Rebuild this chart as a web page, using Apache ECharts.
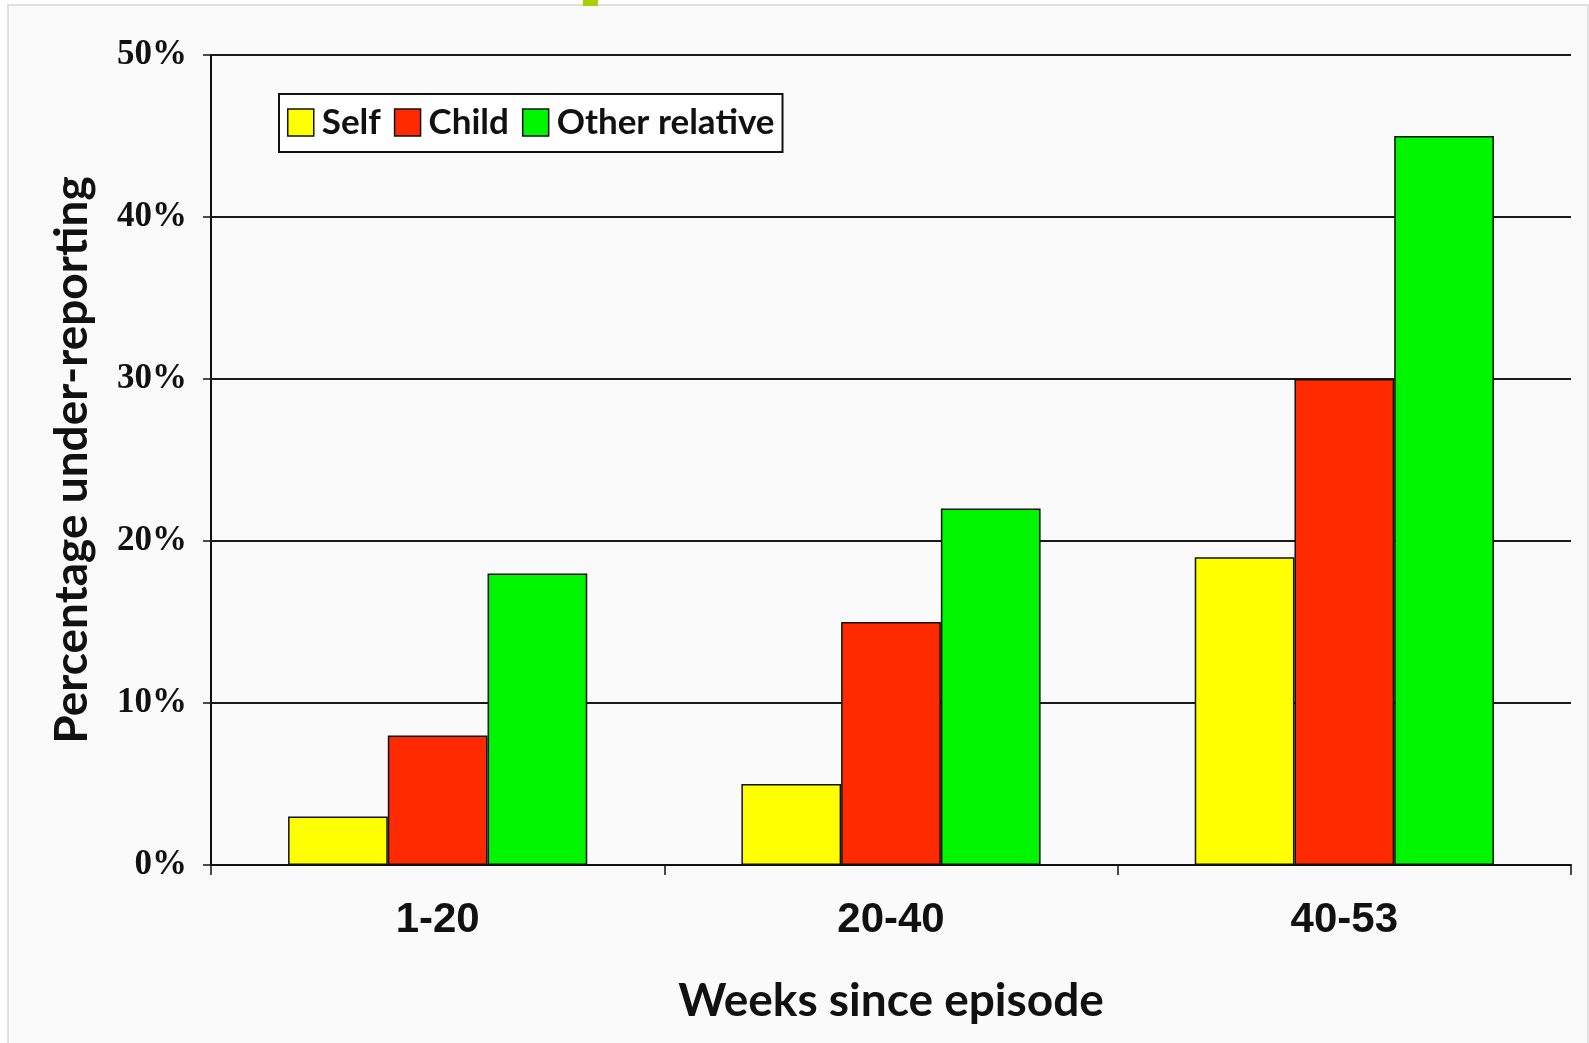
<!DOCTYPE html>
<html>
<head>
<meta charset="utf-8">
<script src="https://cdn.jsdelivr.net/npm/echarts@6/dist/echarts.min.js"></script>
<style>
html,body{margin:0;padding:0;background:#ffffff;}
#chart{width:1589px;height:1043px;}
</style>
</head>
<body>
<div id="chart"></div>
<script>
const categories = ['1-20', '20-40', '40-53'];
const selfValues = [3, 5, 19];
const childValues = [8, 15, 30];
const otherValues = [18, 22, 45];
const seriesNames = ['Self', 'Child', 'Other relative'];
const yTicks = [0, 10, 20, 30, 40, 50];

const chart = echarts.init(document.getElementById('chart'), null, {renderer: 'canvas'});
const titleFont = 'Lato, "Open Sans", sans-serif';
const barBorder = {borderColor: '#111', borderWidth: 1.5};

chart.setOption({
  backgroundColor: '#ffffff',
  animation: false,
  graphic: [
    {type: 'rect', z: -10, shape: {x: 8, y: 5, width: 1580, height: 1040},
     style: {fill: '#fafafa', stroke: '#e0e0e0', lineWidth: 2}},
    {type: 'rect', z: -9, shape: {x: 583, y: 0, width: 15, height: 6},
     style: {fill: '#a8d000'}}
  ],
  grid: {left: 211, right: 18, top: 55, bottom: 178, containLabel: false},
  legend: {
    left: 279, top: 94,
    orient: 'horizontal',
    data: seriesNames,
    itemWidth: 26, itemHeight: 27, itemGap: 13,
    backgroundColor: '#ffffff',
    borderColor: '#111', borderWidth: 2,
    padding: [11, 8, 12, 8],
    textStyle: {fontFamily: titleFont, fontWeight: 'bold', fontSize: 35, color: '#111', padding: [0, 0, 0, 3]},
    icon: 'rect',
    itemStyle: {borderColor: '#111', borderWidth: 1.5}
  },
  xAxis: {
    type: 'category',
    data: categories,
    name: 'Weeks since episode',
    nameLocation: 'middle',
    nameGap: 113,
    nameTextStyle: {fontFamily: titleFont, fontWeight: 'bold', fontSize: 46, color: '#111'},
    axisLine: {show: true, lineStyle: {color: '#111', width: 2}},
    axisTick: {show: true, length: 10, lineStyle: {color: '#111', width: 1.5}},
    axisLabel: {margin: 34, fontFamily: '"Liberation Sans", Arial, sans-serif', fontWeight: 'bold', fontSize: 42, color: '#111'}
  },
  yAxis: {
    type: 'value',
    min: 0, max: 50, interval: 10,
    name: 'Percentage under-reporting',
    nameLocation: 'middle',
    nameGap: 116,
    nameTextStyle: {fontFamily: titleFont, fontWeight: 'bold', fontSize: 46, color: '#111'},
    axisLine: {show: true, lineStyle: {color: '#111', width: 2}},
    axisTick: {show: true, length: 8, lineStyle: {color: '#111', width: 1.5}},
    axisLabel: {
      margin: 24,
      fontFamily: '"Liberation Serif", "Times New Roman", serif', fontWeight: 'bold', fontSize: 35, color: '#111',
      formatter: function (v) { return yTicks.indexOf(v) >= 0 ? v + '%' : ''; }
    },
    splitLine: {show: true, lineStyle: {color: '#1a1a1a', width: 2}}
  },
  series: [
    {name: seriesNames[0], type: 'bar', data: selfValues, barGap: '0%', barCategoryGap: '34%',
     itemStyle: Object.assign({color: '#ffff00'}, barBorder)},
    {name: seriesNames[1], type: 'bar', data: childValues, barGap: '0%', barCategoryGap: '34%',
     itemStyle: Object.assign({color: '#ff2a00'}, barBorder)},
    {name: seriesNames[2], type: 'bar', data: otherValues, barGap: '0%', barCategoryGap: '34%',
     itemStyle: Object.assign({color: '#00f500'}, barBorder)}
  ]
});
</script>
</body>
</html>
